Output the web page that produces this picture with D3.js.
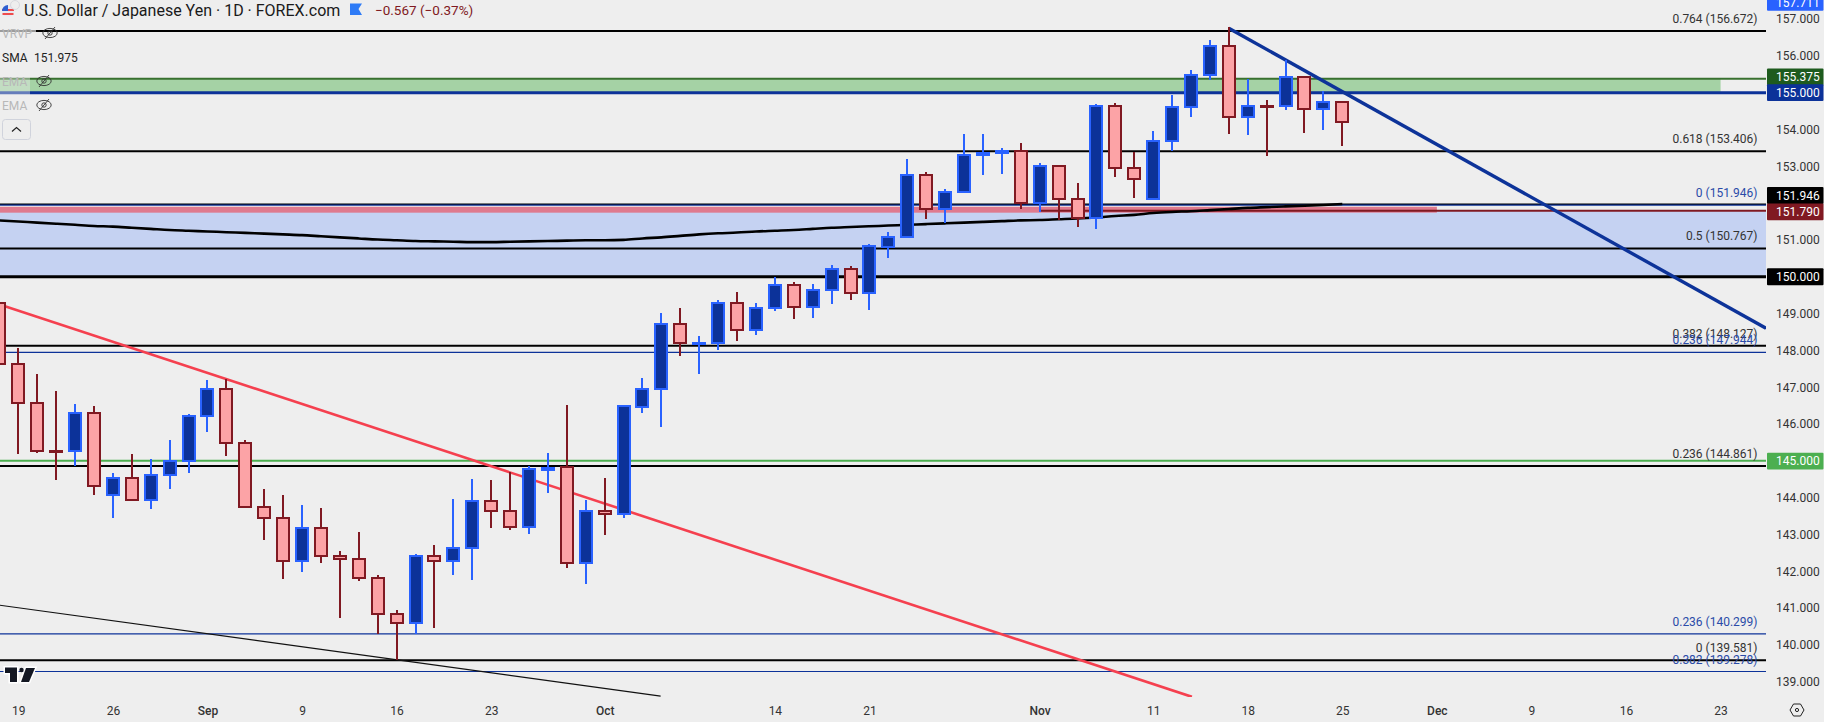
<!DOCTYPE html>
<html>
<head>
<meta charset="utf-8">
<title>USD/JPY 1D</title>
<script src="https://cdn.jsdelivr.net/npm/d3@7"></script>
<style>
  html, body { margin: 0; padding: 0; background: #eeeeee; overflow: hidden; }
  text { font-family: Roboto, sans-serif; }
</style>
</head>
<body>
<div id="chart"></div>
<script>
// Daily bars, 16 Aug to 25 Nov
const opens = [149.28,147.62,146.58,145.26,145.26,146.29,144.06,144.53,143.95,144.61,144.99,146.21,146.94,145.48,143.74,143.44,142.29,143.17,142.42,142.34,141.83,140.83,140.60,142.41,142.29,142.62,143.90,143.63,143.21,144.76,144.82,142.23,143.63,143.56,146.47,146.94,148.71,148.19,148.19,149.30,148.56,149.14,149.77,149.19,149.63,150.20,149.55,150.82,151.07,152.75,151.83,152.29,153.30,153.35,153.41,152.01,153.00,152.12,151.60,154.63,152.94,152.12,153.70,154.60,155.47,156.26,154.33,154.65,154.65,155.42,154.55,154.74];
const highs = [149.40,148.06,147.36,146.90,146.54,146.49,144.67,145.19,145.05,145.57,146.27,147.20,147.22,145.57,144.23,144.07,143.80,143.72,142.55,143.07,141.90,140.95,142.46,142.71,143.96,144.51,144.48,144.69,144.86,145.21,146.52,143.93,144.53,146.52,147.25,149.01,149.15,148.39,149.37,149.58,149.29,149.98,149.85,149.80,150.32,150.29,150.89,151.21,153.20,152.84,152.38,153.88,153.88,153.50,153.63,153.08,153.00,152.54,154.69,154.71,153.40,153.96,154.94,155.62,156.43,156.77,155.36,154.80,155.89,155.45,155.04,154.74];
const lows = [147.50,145.19,145.22,144.48,144.87,144.08,143.45,143.95,143.69,144.23,144.67,145.78,145.13,143.74,142.85,141.79,141.98,142.23,140.73,141.74,140.31,139.59,140.31,140.47,141.90,141.76,143.17,143.12,143.00,144.13,142.09,141.65,142.99,143.45,146.30,145.92,147.85,147.36,148.01,148.25,148.42,149.07,148.85,148.88,149.26,149.37,149.10,150.51,151.07,151.57,151.47,152.29,152.76,152.79,151.84,151.77,151.54,151.35,151.30,152.71,152.15,152.12,153.41,154.34,155.34,153.88,153.85,153.28,154.53,153.90,153.99,153.55];
const closes = [147.62,146.58,145.26,145.25,146.29,144.33,144.53,143.95,144.61,145.00,146.21,146.94,145.48,143.74,143.44,142.29,143.17,142.42,142.34,141.83,140.83,140.60,142.41,142.29,142.62,143.90,143.63,143.21,144.77,144.81,142.23,143.63,143.56,146.48,146.94,148.71,148.19,148.20,149.30,148.56,149.14,149.77,149.19,149.63,150.20,149.55,150.83,151.07,152.75,151.83,152.29,153.30,153.35,153.41,152.01,153.00,152.12,151.60,154.63,152.94,152.65,153.70,154.60,155.47,156.26,154.33,154.65,154.64,155.42,154.55,154.74,154.20];
const sma = [151.53,151.50,151.47,151.44,151.41,151.38,151.36,151.33,151.30,151.27,151.25,151.23,151.21,151.19,151.17,151.15,151.13,151.10,151.07,151.04,151.01,150.99,150.97,150.96,150.95,150.94,150.94,150.95,150.96,150.97,150.98,150.99,150.99,151.00,151.04,151.07,151.11,151.15,151.18,151.20,151.23,151.25,151.27,151.30,151.33,151.35,151.37,151.39,151.41,151.43,151.45,151.47,151.49,151.51,151.53,151.54,151.56,151.58,151.61,151.65,151.68,151.73,151.76,151.78,151.81,151.84,151.87,151.89,151.91,151.93,151.95,151.975];

// Time axis, in bar numbers
const timeTicks = [1,6,11,16,21,26,32,41,46,55,61,66,71,76,81,86,91];
const timeLabels = ["19","26","Sep","9","16","23","Oct","14","21","Nov","11","18","25","Dec","9","16","23"];
const priceTicks = [157,156,154,153,151,149,148,147,146,144,143,142,141,140,139];

// Fibonacci levels and plain horizontals
const fibBlack = [["0.764",156.672],["0.618",153.406],["0.5",150.767],["0.382",148.127],["0.236",144.861],["0",139.581]];
const fibBlue = [["0",151.946],["0.236",147.944],["0.236",140.299],["0.382",139.278]];

// [bar, price] ends of the drawn trendlines
const redTrend = [[0,149.25],[63.05,138.59]];
const blueTrend = [[65,156.75],[93.4,148.60]];
const thinTrend = [[0,141.08],[34.96,138.61]];

// Price badges on the right hand scale
const badgeLabels = ["155.375","155.000","151.946","151.790","150.000","145.000"];
const badgePrices = [155.375,155,151.946,151.79,150,145];
const badgeColors = ["#1e5b1e","#0c3299","#000000","#801922","#000000","#4caf50"];

const width = 1824, height = 722;
const plotRight = 1766, plotBottom = 697;

const svg = d3.select("#chart").append("svg")
    .attr("width", width)
    .attr("height", height)
    .style("display", "block");

svg.append("rect").attr("width", width).attr("height", height).attr("fill", "#eeeeee");

const x = d3.scaleLinear().domain([0, 71]).range([-0.6, 1342.3]);
const y = d3.scaleLinear().domain([157, 139]).range([19, 681.76]);

svg.append("defs").append("clipPath").attr("id", "plot")
    .append("rect").attr("width", plotRight).attr("height", plotBottom);

const plot = svg.append("g").attr("clip-path", "url(#plot)");

function zone(bar0, bar1, top, bottom, color) {
    plot.append("rect")
        .attr("x", x(bar0))
        .attr("y", y(top))
        .attr("width", x(bar1) - x(bar0))
        .attr("height", y(bottom) - y(top))
        .attr("fill", color);
}

function level(bar0, price, color, w) {
    plot.append("line")
        .attr("x1", x(bar0)).attr("x2", plotRight)
        .attr("y1", y(price)).attr("y2", y(price))
        .attr("stroke", color)
        .attr("stroke-width", w);
}

// Zones
zone(0, 95, 151.79, 150, "#c5d2f2");
zone(0, 76, 151.90, 151.74, "#df7a8e");
zone(0, 91, 155.375, 155, "#a5d2a5");

// Horizontals, behind the candles
fibBlack.forEach(d => level(0, d[1], "#000", 2));
level(0, 150, "#000", 3);
level(0, 151.97, "#000", 1.5);
fibBlue.forEach(d => level(0, d[1], "#0c3299", 1.2));
level(55, 151.79, "#801922", 2);
level(0, 155.375, "#38702f", 2);
level(0, 155, "#0c3299", 3);
level(0, 145, "#4caf50", 2);

// Trendlines
const trendLine = d3.line().x(d => x(d[0])).y(d => y(d[1]));
plot.append("path").attr("d", trendLine(thinTrend)).attr("fill", "none").attr("stroke", "#111").attr("stroke-width", 1.2);
plot.append("path").attr("d", trendLine(redTrend)).attr("fill", "none").attr("stroke", "#f5404f").attr("stroke-width", 2.6);

// SMA
const smaLine = d3.line().x((d, i) => x(i)).y(d => y(d)).curve(d3.curveMonotoneX);
plot.append("path").attr("d", smaLine(sma)).attr("fill", "none").attr("stroke", "#000").attr("stroke-width", 2.6);

plot.append("path").attr("d", trendLine(blueTrend)).attr("fill", "none").attr("stroke", "#0d3399").attr("stroke-width", 3.4);

// Candles
const isUp = i => closes[i] >= opens[i];
const candles = plot.selectAll("g.candle")
    .data(d3.range(opens.length))
    .enter()
    .append("g")
    .attr("class", "candle")
    .attr("shape-rendering", "crispEdges");

candles.append("line")
    .attr("x1", i => Math.round(x(i)))
    .attr("x2", i => Math.round(x(i)))
    .attr("y1", i => y(highs[i]))
    .attr("y2", i => y(lows[i]))
    .attr("stroke", i => isUp(i) ? "#2962ff" : "#801922")
    .attr("stroke-width", 1.4);

candles.append("rect")
    .attr("x", i => Math.round(x(i)) - 6)
    .attr("width", 12)
    .attr("y", i => y(Math.max(opens[i], closes[i])))
    .attr("height", i => Math.max(1, Math.abs(y(opens[i]) - y(closes[i]))))
    .attr("fill", i => isUp(i) ? "#0c3299" : "#fca3a6")
    .attr("stroke", i => isUp(i) ? "#2962ff" : "#801922")
    .attr("stroke-width", 2);

// Fib labels
const fibText = (d, color) => svg.append("text")
    .attr("x", 1757.5)
    .attr("y", y(d[1]) - 8)
    .attr("text-anchor", "end")
    .attr("font-size", 12)
    .attr("fill", color)
    .text(`${d[0]} (${d[1].toFixed(3)})`);
fibBlack.forEach(d => fibText(d, "#333"));
fibBlue.forEach(d => fibText(d, "#2a4ba8"));

// Axes
const priceAxis = d3.axisRight(y)
    .tickValues(priceTicks)
    .tickSize(0)
    .tickPadding(10)
    .tickFormat(d3.format(".3f"));
const priceG = svg.append("g").attr("transform", `translate(${plotRight},0)`).call(priceAxis);
priceG.select(".domain").remove();
priceG.selectAll("text").attr("font-size", 12).attr("fill", "#333").style("font-family", "Roboto, sans-serif");

const timeAxis = d3.axisBottom(x)
    .tickValues(timeTicks)
    .tickSize(0)
    .tickPadding(9)
    .tickFormat((d, i) => timeLabels[i]);
const timeG = svg.append("g").attr("transform", `translate(0,${plotBottom})`).call(timeAxis);
timeG.select(".domain").remove();
timeG.selectAll("text")
    .attr("font-size", 12)
    .attr("fill", "#333")
    .attr("font-weight", d => [11, 32, 55, 76].includes(d) ? 500 : 400)
    .style("font-family", "Roboto, sans-serif");

// Badges, nudged apart the way the scale does it
const badgeNudge = [-2, 0, -9.6, 1, 0, 0.3];
const badges = svg.selectAll("g.badge")
    .data(badgeLabels)
    .enter()
    .append("g")
    .attr("class", "badge")
    .attr("transform", (d, i) => `translate(1767,${y(badgePrices[i]) + badgeNudge[i]})`);
badges.append("rect")
    .attr("y", -8.4)
    .attr("width", 56.5)
    .attr("height", 16.8)
    .attr("rx", 1)
    .attr("fill", (d, i) => badgeColors[i]);
badges.append("text")
    .attr("x", 9)
    .attr("y", 4.3)
    .attr("font-size", 12)
    .attr("fill", "#fff")
    .text(d => d);

// Last price badge, clamped at the top edge
svg.append("rect").attr("x", 1767).attr("y", -6).attr("width", 56.5).attr("height", 16.8).attr("rx", 1).attr("fill", "#2962ff");
svg.append("text").attr("x", 1776).attr("y", 7).attr("font-size", 12).attr("fill", "#fff").text("157.711");

// Settings hexagon under the price scale
const hex = svg.append("g").attr("transform", "translate(1797,710)").attr("fill", "none").attr("stroke", "#222").attr("stroke-width", 1);
hex.append("path").attr("d", "M-7,0L-3.5,-6L3.5,-6L7,0L3.5,6L-3.5,6Z");
hex.append("circle").attr("r", 1.6);

// Legend backing and text
svg.append("rect").attr("x", 0).attr("y", 24).attr("width", 36).attr("height", 18).attr("fill", "#eee").attr("opacity", 0.65);
svg.append("rect").attr("x", 0).attr("y", 72).attr("width", 30).attr("height", 24).attr("fill", "#eee").attr("opacity", 0.4);

const legendText = (label, ty, color) => svg.append("text")
    .attr("x", 2).attr("y", ty)
    .attr("font-size", 12)
    .attr("fill", color)
    .text(label);
legendText("VRVP", 38, "#b8b8b8");
legendText("SMA", 62, "#222");
legendText("EMA", 86, "#b8b8b8");
legendText("EMA", 110, "#b8b8b8");
svg.append("text").attr("x", 34).attr("y", 62).attr("font-size", 12).attr("fill", "#222").text("151.975");

function eye(cx, cy) {
    const g = svg.append("g").attr("transform", `translate(${cx},${cy})`)
        .attr("fill", "none").attr("stroke", "#333").attr("stroke-width", 0.9);
    g.append("ellipse").attr("rx", 7.2).attr("ry", 4.6);
    g.append("circle").attr("r", 2.2);
    g.append("line").attr("x1", -5).attr("y1", 6).attr("x2", 5).attr("y2", -6);
}
eye(50, 33);
eye(44, 81);
eye(44, 105);

svg.append("rect").attr("x", 2.5).attr("y", 119.5).attr("width", 28).attr("height", 20).attr("rx", 3)
    .attr("fill", "none").attr("stroke", "#d0d3dc");
svg.append("path").attr("d", "M12,131.5L16.5,127.5L21,131.5").attr("fill", "none").attr("stroke", "#222").attr("stroke-width", 1.2);

// Header
svg.append("circle").attr("cx", 8).attr("cy", 11).attr("r", 6).attr("fill", "#e8e8f0");
svg.append("path").attr("d", "M2,9h12v2H2zM2.5,13h11v2h-11z").attr("fill", "#ee4c4c");
svg.append("path").attr("d", "M2,11a6,6 0 0 1 6,-6v6z").attr("fill", "#2f5fd0");
svg.append("circle").attr("cx", 15).attr("cy", 5).attr("r", 4.5).attr("fill", "none").attr("stroke", "#d8d8de");

svg.append("text")
    .attr("x", 24).attr("y", 15.5)
    .attr("font-size", 16)
    .attr("fill", "#1a1a1a")
    .text("U.S. Dollar / Japanese Yen · 1D · FOREX.com");
svg.append("path").attr("d", "M350,3.5H362L358.5,9L362,15H350Z").attr("fill", "#2e7bf6");
svg.append("text")
    .attr("x", 375).attr("y", 14.5)
    .attr("font-size", 13.5)
    .attr("fill", "#801922")
    .text("−0.567 (−0.37%)");

// Watermark logo
const logo = svg.append("g");
const logoPaths = ["M5,667.5H17V682H10V673H5Z", "M26,668H35L29,682H21Z"];
logoPaths.forEach(d => {
    logo.append("path").attr("d", d).attr("fill", "#131722").attr("stroke", "#fff").attr("stroke-width", 3).attr("paint-order", "stroke");
});
logo.append("circle").attr("cx", 21.5).attr("cy", 670).attr("r", 2.2).attr("fill", "#131722");
</script>
</body>
</html>
